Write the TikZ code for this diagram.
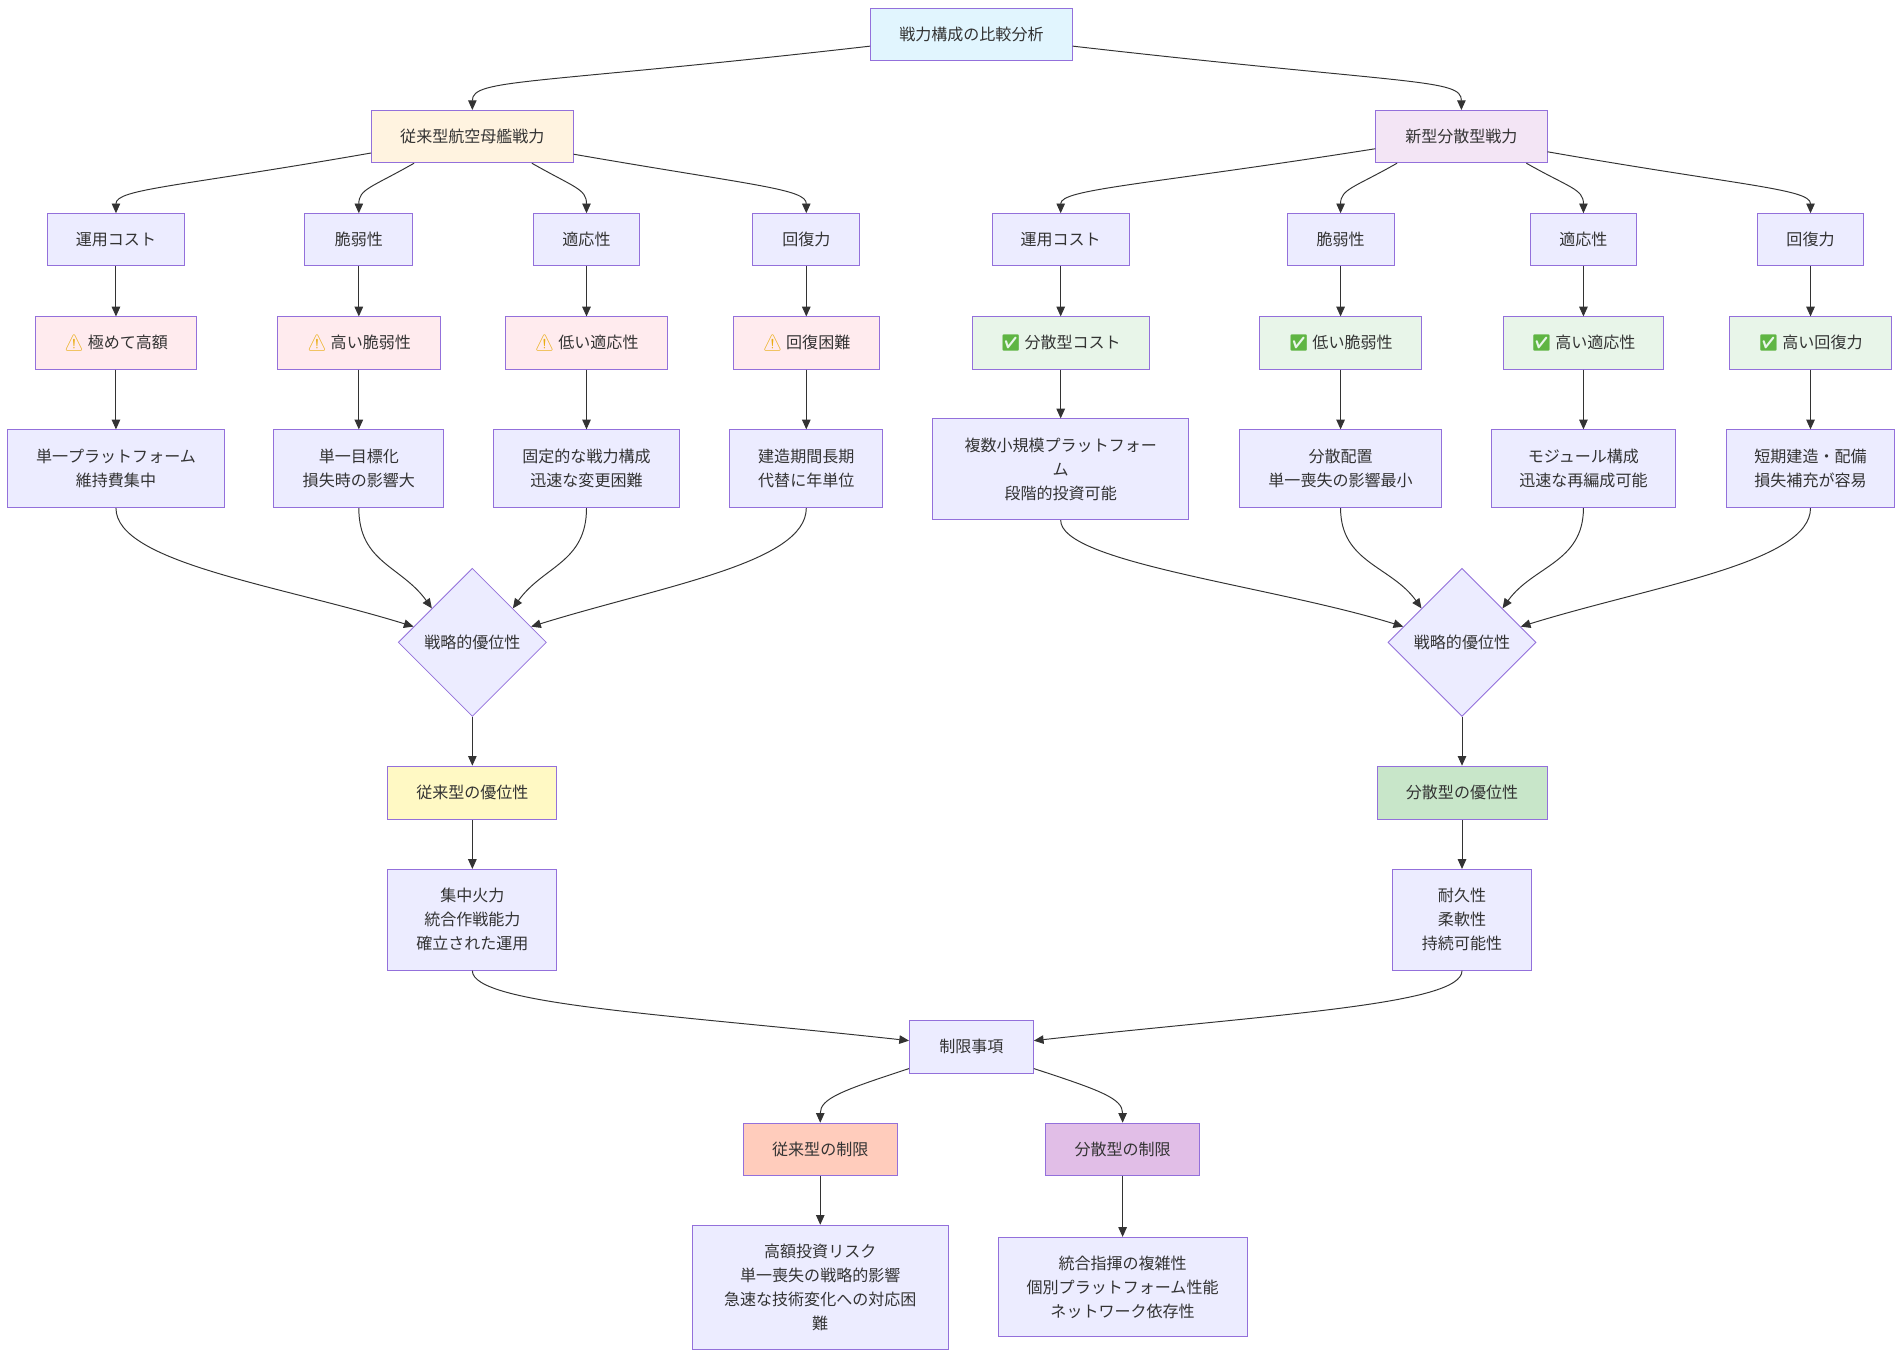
\documentclass[tikz,border=0pt]{standalone}
\usepackage{fontspec}
\setmainfont{Noto Sans CJK JP}
\newfontfamily\emoji{Noto Emoji}
\usetikzlibrary{shapes.geometric,arrows.meta,calc}
\definecolor{strokec}{HTML}{9370DB}
\definecolor{defc}{HTML}{ECECFF}
\definecolor{topc}{HTML}{E1F5FE}
\definecolor{convc}{HTML}{FFF3E0}
\definecolor{newc}{HTML}{F3E5F5}
\definecolor{warnc}{HTML}{FFEBEE}
\definecolor{okc}{HTML}{E8F5E9}
\definecolor{advlc}{HTML}{FFF9C4}
\definecolor{advrc}{HTML}{C8E6C9}
\definecolor{limlc}{HTML}{FFCCBC}
\definecolor{limrc}{HTML}{E1BEE7}
\definecolor{linec}{HTML}{333333}
\definecolor{warnsym}{HTML}{E9AC12}
\definecolor{oksym}{HTML}{5FB543}
\newcommand{\warnmark}{{\emoji\textcolor{warnsym}{⚠}}\ }
\newcommand{\okmark}{{\emoji\textcolor{oksym}{✅}}\ }
\begin{document}
\begin{tikzpicture}[x=1pt,y=-1pt,
  box/.style={draw=strokec,line width=0.8pt,fill=defc,inner sep=0pt,align=center,
    text=linec,font=\fontsize{13.2}{19.8}\selectfont},
  dia/.style={diamond,draw=strokec,line width=0.7pt,fill=defc,inner sep=0pt,
    minimum width=122pt,minimum height=122pt,text=linec,font=\fontsize{13.2}{19.8}\selectfont},
  conn/.style={draw=linec,line width=0.8pt,-{Triangle[length=8pt,width=7pt]}}]
\fill[white] (0,0) rectangle (1568,1118);
\useasboundingbox (0,0) rectangle (1568,1118);
% top
\node[box,fill=topc,minimum width=166pt,minimum height=43pt] (top) at (800,28.5) {戦力構成の比較分析};
\node[box,fill=convc,minimum width=166pt,minimum height=43pt] (L) at (389,112.5) {従来型航空母艦戦力};
\node[box,fill=newc,minimum width=141pt,minimum height=43pt] (R) at (1203.5,112.5) {新型分散型戦力};
% level 2
\node[box,minimum width=113pt,minimum height=43pt] (l1) at (95.5,197.5) {運用コスト};
\node[box,minimum width=89pt,minimum height=43pt] (l2) at (295.5,197.5) {脆弱性};
\node[box,minimum width=88pt,minimum height=43pt] (l3) at (483,197.5) {適応性};
\node[box,minimum width=88pt,minimum height=43pt] (l4) at (664,197.5) {回復力};
\node[box,minimum width=113pt,minimum height=43pt] (r1) at (873.5,197.5) {運用コスト};
\node[box,minimum width=88pt,minimum height=43pt] (r2) at (1104,197.5) {脆弱性};
\node[box,minimum width=88pt,minimum height=43pt] (r3) at (1304,197.5) {適応性};
\node[box,minimum width=88pt,minimum height=43pt] (r4) at (1491,197.5) {回復力};
% level 3
\node[box,fill=warnc,minimum width=133pt,minimum height=43pt] (lw1) at (95.5,282.5) {\warnmark 極めて高額};
\node[box,fill=warnc,minimum width=134pt,minimum height=43pt] (lw2) at (295.5,282.5) {\warnmark 高い脆弱性};
\node[box,fill=warnc,minimum width=133pt,minimum height=43pt] (lw3) at (483,282.5) {\warnmark 低い適応性};
\node[box,fill=warnc,minimum width=120pt,minimum height=43pt] (lw4) at (664,282.5) {\warnmark 回復困難};
\node[box,fill=okc,minimum width=146pt,minimum height=43pt] (rc1) at (873.5,282.5) {\okmark 分散型コスト};
\node[box,fill=okc,minimum width=133pt,minimum height=43pt] (rc2) at (1104,282.5) {\okmark 低い脆弱性};
\node[box,fill=okc,minimum width=132pt,minimum height=43pt] (rc3) at (1304,282.5) {\okmark 高い適応性};
\node[box,fill=okc,minimum width=133pt,minimum height=43pt] (rc4) at (1491,282.5) {\okmark 高い回復力};
% level 4
\node[box,minimum width=178pt,minimum height=64pt] (ld1) at (95.5,386) {単一プラットフォーム\\維持費集中};
\node[box,minimum width=140pt,minimum height=64pt] (ld2) at (295.5,386) {単一目標化\\損失時の影響大};
\node[box,minimum width=153pt,minimum height=64pt] (ld3) at (483,386) {固定的な戦力構成\\迅速な変更困難};
\node[box,minimum width=126pt,minimum height=64pt] (ld4) at (664,386) {建造期間長期\\代替に年単位};
\node[box,minimum width=211pt,minimum height=83pt] (rd1) at (873.5,386.5) {複数小規模プラットフォー\\ム\\段階的投資可能};
\node[box,minimum width=167pt,minimum height=64pt] (rd2) at (1104,386) {分散配置\\単一喪失の影響最小};
\node[box,minimum width=152pt,minimum height=64pt] (rd3) at (1304,386) {モジュール構成\\迅速な再編成可能};
\node[box,minimum width=139pt,minimum height=64pt] (rd4) at (1491,386) {短期建造・配備\\損失補充が容易};
% diamonds
\node[dia] (dL) at (389,529) {戦略的優位性};
\node[dia] (dR) at (1204,529) {戦略的優位性};
% advantages
\node[box,fill=advlc,minimum width=139pt,minimum height=44pt] (advL) at (389,653) {従来型の優位性};
\node[box,fill=advrc,minimum width=140pt,minimum height=44pt] (advR) at (1204,653) {分散型の優位性};
\node[box,minimum width=139pt,minimum height=83pt] (featL) at (389,757.5) {集中火力\\統合作戦能力\\確立された運用};
\node[box,minimum width=114pt,minimum height=83pt] (featR) at (1204,757.5) {耐久性\\柔軟性\\持続可能性};
% limits
\node[box,minimum width=102pt,minimum height=44pt] (lim) at (800,862) {制限事項};
\node[box,fill=limlc,minimum width=127pt,minimum height=43pt] (limL) at (675.5,946.5) {従来型の制限};
\node[box,fill=limrc,minimum width=127pt,minimum height=43pt] (limR) at (924.5,946.5) {分散型の制限};
\node[box,minimum width=211pt,minimum height=102pt] (limLd) at (675.5,1060) {高額投資リスク\\単一喪失の戦略的影響\\急速な技術変化への対応困\\難};
\node[box,minimum width=205pt,minimum height=82pt] (limRd) at (924.5,1060) {統合指揮の複雑性\\個別プラットフォーム性能\\ネットワーク依存性};
% connectors top
\draw[conn] ($(top.west)+(0,9.5)$) .. controls +(-280,32) and +(0,-26) .. (L.north);
\draw[conn] ($(top.east)+(0,9.5)$) .. controls +(280,32) and +(0,-26) .. (R.north);
% L -> level 2
\draw[conn] ($(L.west)+(0,13.5)$) .. controls +(-160,28) and +(0,-20) .. (l1.north);
\draw[conn] ($(L.south)+(-48,0)$) .. controls +(-35,20) and +(0,-20) .. (l2.north);
\draw[conn] ($(L.south)+(49,0)$) .. controls +(35,20) and +(0,-20) .. (l3.north);
\draw[conn] ($(L.east)+(0,14.5)$) .. controls +(150,26) and +(0,-20) .. (l4.north);
% R -> level 2
\draw[conn] ($(R.west)+(0,10)$) .. controls +(-190,30) and +(0,-20) .. (r1.north);
\draw[conn] ($(R.south)+(-53,0)$) .. controls +(-35,20) and +(0,-20) .. (r2.north);
\draw[conn] ($(R.south)+(53.5,0)$) .. controls +(35,20) and +(0,-20) .. (r3.north);
\draw[conn] ($(R.east)+(0,12.5)$) .. controls +(160,28) and +(0,-20) .. (r4.north);
% vertical
\foreach \a/\b in {l1/lw1,l2/lw2,l3/lw3,l4/lw4,r1/rc1,r2/rc2,r3/rc3,r4/rc4,
  lw1/ld1,lw2/ld2,lw3/ld3,lw4/ld4,rc1/rd1,rc2/rd2,rc3/rd3,rc4/rd4,
  dL/advL,advL/featL,dR/advR,advR/featR,limL/limLd,limR/limRd}
  \draw[conn] (\a.south) -- (\b.north);
% level 4 -> diamonds
\draw[conn] (ld1.south) .. controls +(0,45) and +(-110,-34) .. (dL.165);
\draw[conn] (ld2.south) .. controls +(0,45) and +(-25,-35) .. (dL.140);
\draw[conn] (ld3.south) .. controls +(0,45) and +(25,-35) .. (dL.40);
\draw[conn] (ld4.south) .. controls +(0,45) and +(110,-34) .. (dL.15);
\draw[conn] (rd1.south) .. controls +(0,35) and +(-110,-34) .. (dR.165);
\draw[conn] (rd2.south) .. controls +(0,45) and +(-25,-35) .. (dR.140);
\draw[conn] (rd3.south) .. controls +(0,45) and +(25,-35) .. (dR.40);
\draw[conn] (rd4.south) .. controls +(0,45) and +(110,-34) .. (dR.15);
% features -> limits
\draw[conn] (featL.south) .. controls +(0,28) and +(-200,-22) .. ($(lim.west)+(0,-5)$);
\draw[conn] (featR.south) .. controls +(0,28) and +(200,-22) .. ($(lim.east)+(0,-5)$);
\draw[conn] ($(lim.west)+(0,18)$) .. controls +(-55,18) and +(0,-20) .. (limL.north);
\draw[conn] ($(lim.east)+(0,18)$) .. controls +(55,18) and +(0,-20) .. (limR.north);
\end{tikzpicture}
\end{document}
